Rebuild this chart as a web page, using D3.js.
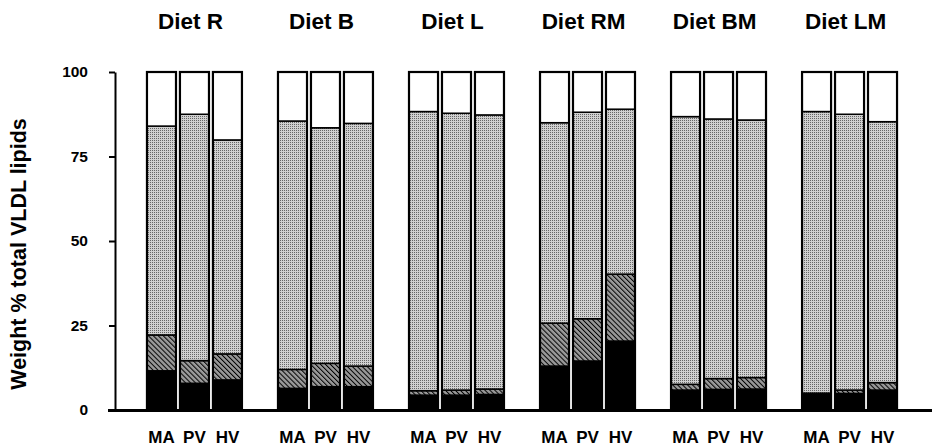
<!DOCTYPE html>
<html><head><meta charset="utf-8">
<script src="https://cdn.jsdelivr.net/npm/d3@7"></script>
<style>
body{margin:0;background:#fff}
svg text{font-family:"Liberation Sans",Arial,Helvetica,sans-serif;font-weight:bold;fill:#000}
</style>
</head><body>
<svg id="c" width="935" height="448"></svg>
<script>
// ---- data (weight % of total VLDL lipids, stacked bottom -> top) ----
const diets = ["Diet R", "Diet B", "Diet L", "Diet RM", "Diet BM", "Diet LM"];
const sites = ["MA", "PV", "HV"];
const yTicks = [0, 25, 50, 75, 100];
// each array: 18 values, ordered diet by diet, MA / PV / HV within a diet
const solidBlack = [11.6, 7.9, 8.9,  6.4, 6.9, 6.9,  4.4, 4.4, 4.6,  13.0, 14.5, 20.4,  5.9, 6.1, 6.2,  4.9, 4.9, 5.9];
const hatched    = [10.6, 6.7, 7.7,  5.6, 6.9, 6.1,  1.3, 1.5, 1.6,  12.7, 12.5, 19.8,  1.7, 3.2, 3.4,  0.1, 1.0, 2.2];
const dotted     = [61.8, 72.9, 63.3, 73.5, 69.7, 71.8, 82.6, 81.9, 81.1, 59.3, 61.1, 48.8, 79.2, 76.8, 76.2, 83.3, 81.6, 77.2];
const blank      = [16.0, 12.5, 20.1, 14.5, 16.5, 15.2, 11.7, 12.2, 12.7, 15.0, 11.9, 11.0, 13.2, 13.9, 14.2, 11.7, 12.5, 14.7];

const seriesKeys = ["solidBlack", "hatched", "dotted", "blank"];
const seriesVals = {solidBlack, hatched, dotted, blank};

const rows = [];
diets.forEach((d, i) => sites.forEach((s, j) => {
  const k = i * sites.length + j;
  const r = {diet: d, site: s};
  seriesKeys.forEach(key => r[key] = seriesVals[key][k]);
  rows.push(r);
}));

const svg = d3.select("#c");
const defs = svg.append("defs");

// dotted pattern
const pd = defs.append("pattern").attr("id", "pDot").attr("patternUnits", "userSpaceOnUse")
  .attr("width", 2).attr("height", 2);
pd.append("rect").attr("width", 2).attr("height", 2).attr("fill", "#d0d0d0");
pd.append("rect").attr("width", 1).attr("height", 1).attr("fill", "#666");

// hatched pattern
const ph = defs.append("pattern").attr("id", "pHatch").attr("patternUnits", "userSpaceOnUse")
  .attr("width", 3.5).attr("height", 3.5).attr("patternTransform", "rotate(-45)");
ph.append("rect").attr("width", 3.5).attr("height", 3.5).attr("fill", "#9a9a9a");
ph.append("line").attr("x1", 0).attr("y1", 0).attr("x2", 0).attr("y2", 3.5)
  .attr("stroke", "#000").attr("stroke-width", 2);

const fills = {solidBlack: "#000", hatched: "url(#pHatch)", dotted: "url(#pDot)", blank: "#fff"};

const axisX = 115, baseY = 410, topY = 72;
const y = d3.scaleLinear().domain([0, 100]).range([baseY, topY]);
const xG = d3.scaleBand().domain(diets).range([axisX, 929]).paddingInner(0.275).paddingOuter(0.244);
const xS = d3.scaleBand().domain(sites).range([0, xG.bandwidth()]).paddingInner(0.12).paddingOuter(0);

const stack = d3.stack().keys(seriesKeys)(rows);

const gBars = svg.append("g");
stack.forEach(layer => {
  gBars.append("g").selectAll("rect").data(layer).join("rect")
    .attr("x", d => xG(d.data.diet) + xS(d.data.site))
    .attr("width", xS.bandwidth())
    .attr("y", d => y(d[1]))
    .attr("height", d => y(d[0]) - y(d[1]))
    .attr("fill", fills[layer.key])
    .attr("stroke", "#000").attr("stroke-width", 1.5);
});
// bar outlines
gBars.append("g").selectAll("rect").data(rows).join("rect")
  .attr("x", d => xG(d.diet) + xS(d.site))
  .attr("width", xS.bandwidth())
  .attr("y", y(100))
  .attr("height", y(0) - y(100))
  .attr("fill", "none").attr("stroke", "#000").attr("stroke-width", 2.2);

// y axis
const yAxis = svg.append("g").attr("transform", `translate(${axisX},0)`)
  .call(d3.axisLeft(y).tickValues(yTicks).tickSize(6).tickPadding(21).tickSizeOuter(0));
yAxis.select(".domain").attr("stroke-width", 2);
yAxis.selectAll(".tick line").attr("stroke-width", 2);
yAxis.selectAll(".tick text").attr("font-size", 15.5).attr("font-family", null);

// baseline
svg.append("line").attr("x1", 108).attr("x2", 932).attr("y1", baseY + 0.5).attr("y2", baseY + 0.5)
  .attr("stroke", "#000").attr("stroke-width", 3);

// x labels
diets.forEach(d => {
  svg.append("g").selectAll("text").data(sites).join("text")
    .attr("x", s => xG(d) + xS(s) + xS.bandwidth() / 2)
    .attr("y", 443)
    .attr("text-anchor", "middle").attr("font-size", 17)
    .text(s => s);
});

// diet titles
svg.append("g").selectAll("text").data(diets).join("text")
  .attr("x", d => xG(d) + xG.bandwidth() / 2 - 4)
  .attr("y", 29)
  .attr("text-anchor", "middle").attr("font-size", 22.5)
  .text(d => d);

// y title
svg.append("text")
  .attr("transform", `translate(26,254) rotate(-90)`)
  .attr("text-anchor", "middle").attr("font-size", 21.5)
  .text("Weight % total VLDL lipids");
</script>
</body></html>
